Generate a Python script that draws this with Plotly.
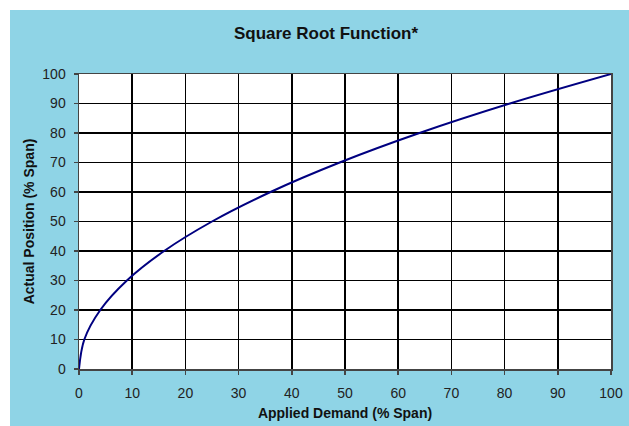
import plotly.graph_objects as go

applied_demand = [0, 1, 4, 9, 16, 25, 36, 49, 64, 81, 100]
actual_position = [0, 10, 20, 30, 40, 50, 60, 70, 80, 90, 100]
tick_vals = [0, 10, 20, 30, 40, 50, 60, 70, 80, 90, 100]

BLUE = "#8FD4E6"
FONT = "Liberation Sans, Arial, sans-serif"

W, H = 629, 426
ML, MR, MT, MB = 79, 18, 74, 57
PW = W - ML - MR
PH = H - MT - MB

fig = go.Figure()
fig.add_trace(go.Scatter(
    x=applied_demand, y=actual_position, mode="lines",
    line=dict(color="#000080", width=2, shape="spline", smoothing=1.0),
    hoverinfo="skip", showlegend=False,
))

axis_common = dict(
    range=[0, 100], tickvals=tick_vals, ticks="outside", ticklen=4,
    tickcolor="#444444", tickwidth=1.5, automargin=False,
    showgrid=True, gridcolor="#000000", gridwidth=1.5,
    showline=True, linecolor="#444444", linewidth=1.5, mirror=True,
    zeroline=False, tickfont=dict(family=FONT, size=14, color="#222222"),
)

fig.update_layout(
    width=W, height=H,
    margin=dict(l=ML, r=MR, t=MT, b=MB, autoexpand=False),
    paper_bgcolor=BLUE, plot_bgcolor="#FFFFFF",
    title=dict(text="<b>Square Root Function*</b>",
               x=(326 - ML) / PW, xref="paper", xanchor="center",
               y=1 - 33 / H, yanchor="middle",
               font=dict(family=FONT, size=17, color="#111111")),
    xaxis=dict(axis_common, ticklabelstandoff=7,
               title=dict(text="<b>Applied Demand (% Span)</b>",
               font=dict(family=FONT, size=14, color="#111111"), standoff=8)),
    yaxis=dict(axis_common, ticklabelstandoff=5,
               title=dict(text="<b>Actual Position (% Span)</b>",
               font=dict(family=FONT, size=14, color="#111111"), standoff=4)),
    shapes=[
        dict(type="rect", xref="paper", yref="paper", x0=-0.3, x1=1.2,
             y0=(PH + MT - 10) / PH, y1=1.5, fillcolor="#FFFFFF", line_width=0, layer="below"),
        dict(type="rect", xref="paper", yref="paper", x0=-0.3, x1=(10 - ML) / PW,
             y0=-0.4, y1=1.5, fillcolor="#FFFFFF", line_width=0, layer="below"),
    ],
)

fig.write_html(
    "out.html",
    config={"displayModeBar": False, "staticPlot": True},
    post_script="document.body.style.margin='0';document.body.style.overflow='hidden';",
)
